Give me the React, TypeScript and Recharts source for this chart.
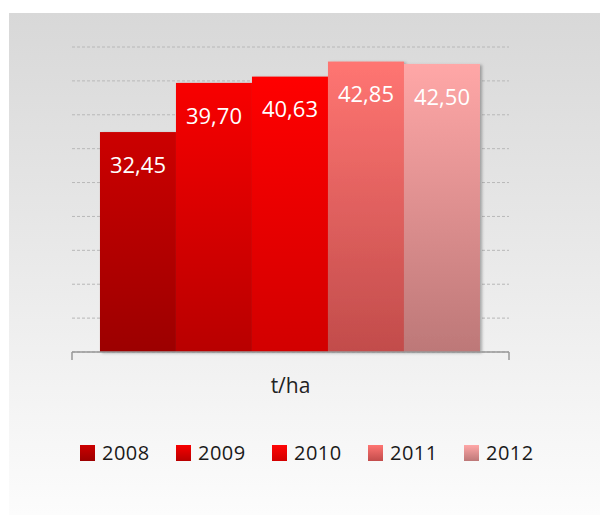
import React from 'react';
import { BarChart, Bar, XAxis, YAxis, CartesianGrid, Legend, LabelList } from 'recharts';

const categories = ['t/ha'];
const years = ['2008', '2009', '2010', '2011', '2012'];
const values = [32.45, 39.7, 40.63, 42.85, 42.5];
const yTicks = [0, 5, 10, 15, 20, 25, 30, 35, 40, 45];
const gradTop = ['#cc0000', '#f80000', '#ff0606', '#ff7572', '#ffa7a7'];
const gradBottom = ['#9c0000', '#b80000', '#d20000', '#c24c4b', '#bd7878'];

const data = categories.map((c) => {
  const row: Record<string, string | number> = { name: c };
  years.forEach((y, i) => {
    row['y' + y] = values[i];
  });
  return row;
});

const FONT = '"Open Sans", "DejaVu Sans", sans-serif';

const fmt = (v: any) => Number(v).toFixed(2).replace('.', ',');

const ShadowBar = (props: any) => {
  const { x, y, width, height, fill } = props;
  if (!height || height <= 0) return null;
  return <rect x={x} y={y} width={width} height={height} fill={fill} filter="url(#barShadow)" />;
};

const CategoryTick = (props: any) => {
  const { x, y, payload } = props;
  const half = payload && typeof payload.offset === 'number' ? payload.offset : 0;
  return (
    <g>
      {half > 0 && (
        <>
          <line x1={x - half} y1={y} x2={x - half} y2={y + 8} stroke="#999" strokeWidth={1.5} />
          <line x1={x + half} y1={y} x2={x + half} y2={y + 8} stroke="#999" strokeWidth={1.5} />
        </>
      )}
      <text x={x} y={y + 41} textAnchor="middle" fill="#222" fontSize={21} fontFamily={FONT}>
        {payload.value}
      </text>
    </g>
  );
};

const LegendContent = (props: any) => {
  const payload = props.payload || [];
  return (
    <div style={{ display: 'flex', justifyContent: 'center', gap: 24, fontFamily: FONT }}>
      {payload.map((p: any, i: number) => {
        const idx = years.indexOf(String(p.value));
        return (
          <div key={i} style={{ display: 'flex', alignItems: 'center', width: 72 }}>
            <svg width={15} height={16} style={{ display: 'block' }}>
              <rect x={0} y={0} width={15} height={16} fill={`url(#g${idx})`} />
            </svg>
            <span style={{ marginLeft: 7, fontSize: 20, lineHeight: '20px', color: '#1a1a1a', letterSpacing: 0.5 }}>
              {p.value}
            </span>
          </div>
        );
      })}
    </div>
  );
};

export default function App() {
  return (
    <div style={{ position: 'relative', width: 600, height: 507 }}>
      <div
        style={{
          position: 'absolute',
          left: 1,
          top: 5,
          right: 0,
          bottom: 0,
          background: 'linear-gradient(to bottom, #d8d8d8 0%, #e6e6e6 40%, #f3f3f3 75%, #fcfcfc 100%)',
        }}
      />
      <div style={{ position: 'absolute', left: 0, top: 0 }}>
        <BarChart
          width={600}
          height={507}
          data={data}
          margin={{ top: 39, right: 99, bottom: 162, left: 64 }}
          barCategoryGap="6.4%"
          barGap={0}
        >
          <defs>
            {years.map((y, i) => (
              <linearGradient key={y} id={`g${i}`} x1="0" y1="0" x2="0" y2="1">
                <stop offset="0%" stopColor={gradTop[i]} />
                <stop offset="100%" stopColor={gradBottom[i]} />
              </linearGradient>
            ))}
            <filter id="barShadow" x="-10%" y="-10%" width="130%" height="120%">
              <feDropShadow dx="2" dy="1" stdDeviation="1.5" floodColor="#000" floodOpacity="0.3" />
            </filter>
          </defs>
          <CartesianGrid vertical={false} stroke="#b8b8b8" strokeDasharray="3 2" />
          <YAxis hide domain={[0, 45]} ticks={yTicks} width={0} />
          <XAxis
            dataKey="name"
            height={1}
            axisLine={{ stroke: '#999', strokeWidth: 1.5 }}
            tickLine={false}
            tickSize={0}
            tickMargin={0}
            tick={<CategoryTick />}
          />
          <Legend
            verticalAlign="middle"
            align="center"
            layout="horizontal"
            wrapperStyle={{ top: 435, left: 0, width: 600 }}
            content={<LegendContent />}
          />
          {years.map((y, i) => (
            <Bar
              key={y}
              dataKey={'y' + y}
              name={y}
              fill={`url(#g${i})`}
              isAnimationActive={false}
              shape={<ShadowBar />}
            >
              <LabelList
                dataKey={'y' + y}
                position="insideTop"
                offset={25}
                formatter={fmt}
                fill="#ffffff"
                style={{ fontSize: 22, fontFamily: FONT }}
              />
            </Bar>
          ))}
        </BarChart>
      </div>
    </div>
  );
}
